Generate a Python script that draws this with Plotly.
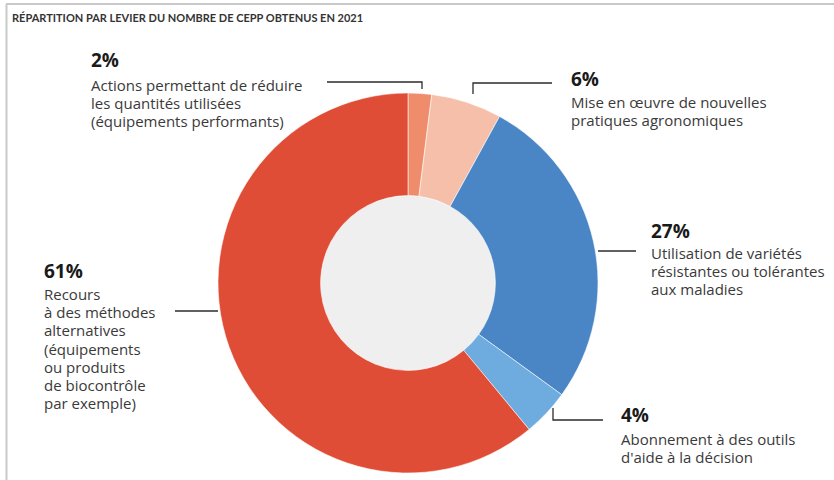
import plotly.graph_objects as go

W, H = 834, 480

# Data
levers = [
    "Actions permettant de réduire les quantités utilisées (équipements performants)",
    "Mise en œuvre de nouvelles pratiques agronomiques",
    "Utilisation de variétés résistantes ou tolérantes aux maladies",
    "Abonnement à des outils d'aide à la décision",
    "Recours à des méthodes alternatives (équipements ou produits de biocontrôle par exemple)",
]
shares = [2, 6, 27, 4, 61]
colors = ["#EE8C6C", "#F5BFA9", "#4A86C6", "#6EABDF", "#E04D36"]
label_lines = [
    ["Actions permettant de réduire", "les quantités utilisées", "(équipements performants)"],
    ["Mise en œuvre de nouvelles", "pratiques agronomiques"],
    ["Utilisation de variétés", "résistantes ou tolérantes", "aux maladies"],
    ["Abonnement à des outils", "d'aide à la décision"],
    ["Recours", "à des méthodes", "alternatives", "(équipements", "ou produits", "de biocontrôle", "par exemple)"],
]
title_text = "RÉPARTITION PAR LEVIER DU NOMBRE DE CEPP OBTENUS EN 2021"


def px(x):
    return x / W


def py(y):
    return 1 - y / H


# donut geometry (pixels)
cx, cy, R = 408, 283, 190
hole = 0.46

fig = go.Figure()
fig.add_trace(go.Pie(
    labels=levers,
    values=shares,
    marker=dict(colors=colors, line=dict(color="rgba(255,255,255,0.7)", width=0.8)),
    hole=hole,
    sort=False,
    direction="clockwise",
    rotation=0,
    textinfo="none",
    hoverinfo="label+percent",
    showlegend=False,
    domain=dict(x=[px(cx - R), px(cx + R)], y=[py(cy + R), py(cy - R)]),
))

shapes = []
# grey disc filling the donut hole
r_in = R * hole
shapes.append(dict(type="circle", xref="paper", yref="paper", layer="below",
                   x0=px(cx - r_in), x1=px(cx + r_in), y0=py(cy + r_in), y1=py(cy - r_in),
                   fillcolor="#EFEFEF", line=dict(width=0)))
# frame
frame = dict(color="#C9C9C9", width=2)
shapes.append(dict(type="line", xref="paper", yref="paper", x0=px(6), x1=px(834), y0=py(4), y1=py(4), line=frame))
shapes.append(dict(type="line", xref="paper", yref="paper", x0=px(6.5), x1=px(6.5), y0=py(4), y1=py(480), line=frame))

# leader lines (polylines in pixels)
leaders = [
    [(327, 82), (422, 82), (422, 89)],
    [(552, 83), (473, 83), (473, 94)],
    [(598, 251), (636, 251)],
    [(553, 408), (553, 420), (603, 420)],
    [(175, 311), (218, 311)],
]
for pts in leaders:
    path = "M " + " L ".join(f"{px(x)},{py(y)}" for x, y in pts)
    shapes.append(dict(type="path", xref="paper", yref="paper", path=path,
                       line=dict(color="#2b2b2b", width=1.3)))

annotations = []
annotations.append(dict(text=f"<b>{title_text}</b>", x=px(10), y=py(18), xref="paper", yref="paper",
                        xanchor="left", yanchor="middle", showarrow=False,
                        font=dict(family="Lato, sans-serif", size=11, color="#333333")))

# label positions: (left x, percent centre y, text block top y)
label_pos = [
    (89, 60, 73),
    (569, 79, 90),
    (649, 231, 241),
    (619, 415, 427),
    (42, 271, 282),
]
for share, lines, (lx, pcy, ty) in zip(shares, label_lines, label_pos):
    annotations.append(dict(text=f"<b>{share}%</b>", x=px(lx), y=py(pcy), xref="paper", yref="paper",
                            xanchor="left", yanchor="middle", showarrow=False,
                            font=dict(family="Open Sans", size=19, color="#1a1a1a")))
    body = "<br>".join(f'<span style="font-size:15px">{ln}</span>' for ln in lines)
    annotations.append(dict(text=body, x=px(lx), y=py(ty), xref="paper", yref="paper",
                            xanchor="left", yanchor="top", align="left", showarrow=False,
                            font=dict(family="Open Sans", size=14, color="#3a3a3a")))

fig.update_layout(
    width=W, height=H,
    margin=dict(l=0, r=0, t=0, b=0),
    paper_bgcolor="white",
    plot_bgcolor="white",
    shapes=shapes,
    annotations=annotations,
)

fig.write_html("out.html", config={"displayModeBar": False})
